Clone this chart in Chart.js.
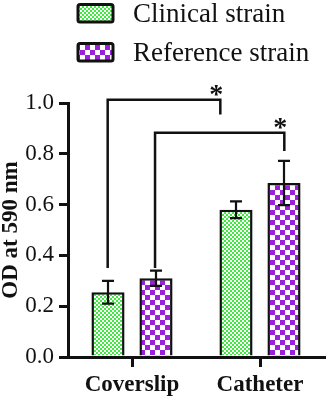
<!DOCTYPE html>
<html>
<head>
<meta charset="utf-8">
<script src="https://cdn.jsdelivr.net/npm/chart.js@4.4.0/dist/chart.umd.min.js"></script>
<style>
body{margin:0;background:#fff;}
</style>
</head>
<body>
<canvas id="odChart" width="328" height="400"></canvas>
<script>
var categories = ["Coverslip", "Catheter"];
var seriesNames = ["Clinical strain", "Reference strain"];
var clinical = [0.255, 0.58];
var clinicalErr = [0.045, 0.033];
var reference = [0.31, 0.685];
var referenceErr = [0.03, 0.087];
var yTicks = [0, 0.2, 0.4, 0.6, 0.8, 1.0];
// significance brackets (x in category units, heights in OD units)
var bracketFrom = [-0.19, 0.18];
var bracketTo = [0.69, 1.19];
var bracketTop = [1.013, 0.883];
var bracketFromEnd = [0.35, 0.35];
var bracketToEnd = [0.955, 0.811];
var bracketLabel = ["*", "*"];

Chart.defaults.font.family = '"Liberation Serif", "Times New Roman", serif';
Chart.defaults.color = '#111';

function checker(c1, c2, size){
    var cv = document.createElement('canvas');
    cv.width = cv.height = size*2;
    var g = cv.getContext('2d');
    g.fillStyle = c2; g.fillRect(0,0,size*2,size*2);
    g.fillStyle = c1; g.fillRect(0,0,size,size); g.fillRect(size,size,size,size);
    return g.createPattern(cv, 'repeat');
}
var greenFill = checker('#40ea40', '#ffffff', 2);
var purpleFill = checker('#9b1fdb', '#ffffff', 5);

var extras = {
    id: 'extras',
    afterDatasetsDraw: function(chart){
        var ctx = chart.ctx, x = chart.scales.x, y = chart.scales.y;
        ctx.save();
        ctx.strokeStyle = '#111';
        ctx.lineWidth = 2.2;
        [[clinical, clinicalErr], [reference, referenceErr]].forEach(function(s, d){
            chart.getDatasetMeta(d).data.forEach(function(bar, i){
                var hi = y.getPixelForValue(s[0][i] + s[1][i]);
                var lo = y.getPixelForValue(s[0][i] - s[1][i]);
                ctx.beginPath();
                ctx.moveTo(bar.x, hi); ctx.lineTo(bar.x, lo);
                ctx.moveTo(bar.x-6, hi); ctx.lineTo(bar.x+6, hi);
                ctx.moveTo(bar.x-6, lo); ctx.lineTo(bar.x+6, lo);
                ctx.stroke();
            });
        });
        ctx.lineWidth = 2.5;
        ctx.fillStyle = '#111';
        ctx.font = 'bold 28px "Liberation Serif"';
        ctx.textAlign = 'center';
        ctx.textBaseline = 'alphabetic';
        for (var i = 0; i < bracketTop.length; i++){
            var xa = x.getPixelForValue(bracketFrom[i]);
            var xb = x.getPixelForValue(bracketTo[i]);
            var yt = y.getPixelForValue(bracketTop[i]);
            ctx.beginPath();
            ctx.moveTo(xa, y.getPixelForValue(bracketFromEnd[i]));
            ctx.lineTo(xa, yt);
            ctx.lineTo(xb, yt);
            ctx.lineTo(xb, y.getPixelForValue(bracketToEnd[i]));
            ctx.stroke();
            ctx.fillText(bracketLabel[i], xb - 4, yt + 3);
        }
        ctx.restore();
    },
    afterDraw: function(chart){
        var ctx = chart.ctx;
        ctx.save();
        var fills = [greenFill, purpleFill];
        var tops = [4.5, 43.5];
        for (var i = 0; i < seriesNames.length; i++){
            ctx.beginPath();
            ctx.roundRect(78, tops[i], 35, 17.5, 2);
            ctx.fillStyle = fills[i];
            ctx.fill();
            ctx.lineWidth = 3;
            ctx.strokeStyle = '#111';
            ctx.stroke();
            ctx.fillStyle = '#111';
            ctx.font = '27px "Liberation Serif"';
            ctx.textBaseline = 'alphabetic';
            ctx.fillText(seriesNames[i], 133, tops[i] + 17.5);
        }
        ctx.restore();
    }
};

new Chart("odChart", {
    type: "bar",
    data: {
        labels: categories,
        datasets: [{
            label: seriesNames[0],
            data: clinical,
            backgroundColor: greenFill,
            borderColor: '#111',
            borderWidth: 2.5
        }, {
            label: seriesNames[1],
            data: reference,
            backgroundColor: purpleFill,
            borderColor: '#111',
            borderWidth: 2.5
        }]
    },
    options: {
        responsive: false,
        animation: false,
        datasets: { bar: { barPercentage: 0.69, categoryPercentage: 0.75 } },
        layout: { padding: { top: 103, right: 4, left: 0, bottom: 0 } },
        plugins: { legend: { display: false }, tooltip: { enabled: false } },
        scales: {
            x: {
                grid: { offset: false, drawOnChartArea: false, color: '#111', lineWidth: 3, tickLength: 10 },
                border: { color: '#111', width: 3 },
                ticks: { font: { size: 23, weight: 'bold' }, padding: 4, color: '#111' },
                afterFit: function(s){ s.height = 43; }
            },
            y: {
                min: 0, max: 1,
                afterBuildTicks: function(s){ s.ticks = yTicks.map(function(v){ return {value: v}; }); },
                ticks: { font: { size: 23 }, padding: 5, color: '#111', callback: function(v){ return v.toFixed(1); } },
                grid: { drawOnChartArea: false, color: '#111', lineWidth: 3, tickLength: 9 },
                border: { color: '#111', width: 3 },
                title: { display: true, text: 'OD at 590 nm', color: '#111', padding: 0, font: { size: 23, weight: 'bold', lineHeight: 1 } },
                afterFit: function(s){ s.width = 68; }
            }
        }
    },
    plugins: [extras]
});
</script>
</body>
</html>
